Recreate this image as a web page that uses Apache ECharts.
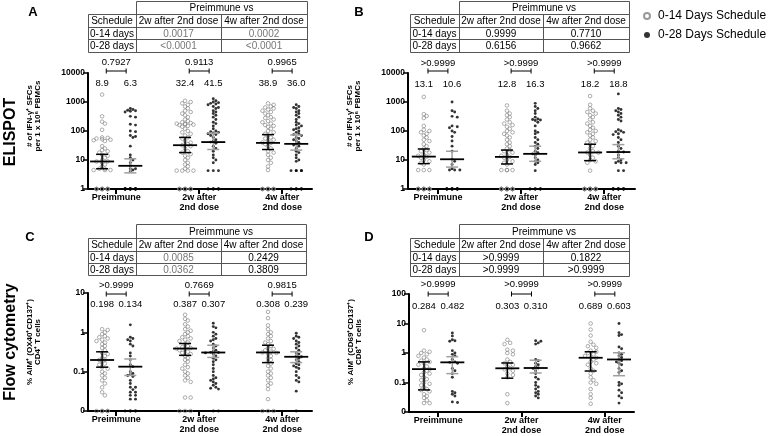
<!DOCTYPE html>
<html><head><meta charset="utf-8">
<script src="https://cdn.jsdelivr.net/npm/echarts@6/dist/echarts.min.js"></script>
<style>html,body{margin:0;padding:0;background:#fff}#c{width:769px;height:436px}</style>
</head><body><div id="c"></div>
<script>
const FONT = '"Liberation Sans", Arial, sans-serif';
const categories = ['Preimmune', '2w after\n2nd dose', '4w after\n2nd dose'];
const seriesNames = ['0-14 Days Schedule', '0-28 Days Schedule'];
const tableHeader = ['Schedule', '2w after 2nd dose', '4w after 2nd dose'];
const tableGroupTitle = 'Preimmune vs';
const tableRows = ['0-14 days', '0-28 days'];

// p-value tables (rows: 0-14 days, 0-28 days; cols: 2w, 4w vs preimmune)
const tableA = [['0.0017', '0.0002'], ['<0.0001', '<0.0001']];
const tableB = [['0.9999', '0.7710'], ['0.6156', '0.9662']];
const tableC = [['0.0085', '0.2429'], ['0.0362', '0.3809']];
const tableD = [['>0.9999', '0.1822'], ['>0.9999', '>0.9999']];

// schedule comparison p-values per time point
const pA = ['0.7927', '0.9113', '0.9965'];
const pB = ['>0.9999', '>0.9999', '>0.9999'];
const pC = ['>0.9999', '0.7669', '0.9815'];
const pD = ['>0.9999', '>0.9999', '>0.9999'];

// medians
const medA_014 = [8.9, 32.4, 38.9], medA_028 = [6.3, 41.5, 36.0];
const medB_014 = [13.1, 12.8, 18.2], medB_028 = [10.6, 16.3, 18.8];
const medC_014 = [0.198, 0.387, 0.308], medC_028 = [0.134, 0.307, 0.239];
const medD_014 = [0.284, 0.303, 0.689], medD_028 = [0.482, 0.310, 0.603];

// confidence intervals [low, high]
const ciA_014 = [[5, 15.7], [18, 60], [23, 75]], ciA_028 = [[3.6, 11], [23, 85], [22, 73]];
const ciB_014 = [[7.5, 24], [7.3, 22], [9.5, 35]], ciB_028 = [[5.7, 20], [9, 30], [11, 34]];
const ciC_014 = [[0.13, 0.32], [0.26, 0.52], [0.17, 0.47]], ciC_028 = [[0.08, 0.21], [0.23, 0.47], [0.17, 0.32]];
const ciD_014 = [[0.056, 0.5], [0.14, 0.46], [0.245, 1.1]], ciD_028 = [[0.2, 0.75], [0.21, 0.57], [0.17, 1.02]];

// ELISPOT A (IFN-gamma SFCs per 1e6 PBMCs); 0 = none detected
const A_pre_014 = [1800,320,210,180,110,60,58,55,52,50,48,45,30,25,22,20,18,15,14,12,10,9,8.9,8,7,6,5,5,4.5,4.5,4.5,0,0,0,0,0,0,0,0,0,0,0,0,0,0];
const A_pre_028 = [600,550,520,500,480,450,320,300,170,160,100,95,70,65,60,30,15,12,10,8,6.3,5,5,4.5,4,0,0,0,0,0,0,0,0,0,0,0,0,0,0,0,0,0,0];
const A_2w_014 = [1100,1000,900,800,700,600,500,450,400,350,300,250,220,200,190,180,175,170,165,160,150,140,120,100,90,80,70,60,55,45,40,35,32.4,30,25,20,18,16,14,12,10,8,7,6,5,4.3,4.3,4.3,4.3,0,0,0,0,0,0,0,0,0,0];
const A_2w_028 = [1300,1100,1000,950,900,850,800,700,650,600,500,450,400,350,300,250,200,180,150,120,100,95,90,85,80,75,70,60,50,45,41.5,38,30,25,20,15,12,10,8,4.3,4.3,4.3,0,0,0,0,0,0,0,0];
const A_4w_014 = [900,800,700,650,600,550,500,450,400,350,300,280,250,220,200,180,160,150,140,120,100,90,80,70,60,55,50,45,40,38.9,35,30,25,20,18,15,12,10,8,6,4.5,0,0,0,0,0,0,0,0,0,0];
const A_4w_028 = [800,700,650,600,500,450,400,350,300,250,200,180,160,150,130,120,110,100,90,80,75,70,60,55,50,45,40,36,33,30,25,20,18,15,12,10,9,4.3,4.3,4.3,4.3,4.3,0,0,0,0,0,0,0,0];

// ELISPOT B
const B_pre_014 = [1500,380,330,280,150,110,100,90,80,70,60,50,45,35,30,25,22,20,18,15,14,13.1,12,10,9,8,7,4.5,4.5,4.5,0,0,0,0,0,0,0,0,0,0,0,0,0,0];
const B_pre_028 = [1000,500,450,320,300,150,140,130,100,90,65,45,30,20,10.6,9,7,5,4.5,4.5,4.5,0,0,0,0,0,0,0,0,0,0,0,0,0,0];
const B_2w_014 = [760,500,400,350,300,250,200,180,160,140,120,100,90,80,70,60,50,40,35,30,25,22,20,18,15,14,12.8,12,10,9,8,7,4.5,4.5,4.5,4.5,0,0,0,0,0,0,0,0,0,0,0,0,0,0,0,0];
const B_2w_028 = [900,700,600,500,400,300,260,250,240,230,200,150,100,90,80,60,50,40,35,30,25,20,18,16.3,15,12,10,9,8,7,4.3,0,0,0,0,0,0,0,0];
const B_4w_014 = [1600,800,600,500,450,400,350,300,250,200,180,150,130,110,100,90,80,70,60,50,45,40,35,30,25,20,18.2,18,15,12,10,9,8,4.3,0,0,0,0,0,0,0,0,0,0,0,0,0,0,0,0];
const B_4w_028 = [1900,600,550,500,450,400,350,300,250,220,110,100,95,90,80,75,60,50,40,30,25,20,18.8,15,12,10,9,8,8,8,4.3,4.3,0,0,0,0,0,0,0,0,0,0,0,0];

// Flow cytometry C (% AIM+ CD4+)
const C_pre_014 = [1.2,1.15,1.0,0.9,0.8,0.75,0.7,0.65,0.6,0.55,0.5,0.45,0.4,0.35,0.3,0.28,0.25,0.22,0.2,0.198,0.18,0.16,0.15,0.13,0.12,0.1,0.09,0.08,0.07,0.06,0.05,0.04,0.03,0.025,0,0,0,0,0];
const C_pre_028 = [1.55,0.75,0.7,0.65,0.6,0.5,0.45,0.3,0.25,0.2,0.15,0.134,0.1,0.09,0.085,0.08,0.075,0.06,0.05,0.04,0.04,0.035,0.03,0.03,0.025,0.025,0.02,0.02,0,0,0,0,0];
const C_2w_014 = [2.8,2.2,2.0,1.6,1.4,1.2,1.1,1.0,0.9,0.8,0.75,0.7,0.65,0.6,0.55,0.5,0.45,0.42,0.4,0.387,0.37,0.35,0.32,0.3,0.28,0.25,0.22,0.2,0.18,0.15,0.13,0.12,0.1,0.09,0.08,0.07,0.06,0.055,0.022,0.022,0,0,0];
const C_2w_028 = [1.7,1.4,1.3,1.0,0.9,0.8,0.7,0.65,0.6,0.5,0.45,0.4,0.35,0.33,0.31,0.307,0.3,0.28,0.25,0.22,0.2,0.18,0.15,0.12,0.1,0.08,0.07,0.065,0.06,0.055,0.05,0.045,0.04,0.038,0.036,0,0];
const C_4w_014 = [3.3,2.3,1.5,1.2,1.0,0.9,0.8,0.7,0.6,0.55,0.5,0.45,0.4,0.38,0.35,0.32,0.308,0.3,0.28,0.25,0.22,0.2,0.18,0.16,0.14,0.12,0.1,0.09,0.08,0.07,0.06,0.05,0.045,0.036,0.02,0,0,0];
const C_4w_028 = [0.95,0.8,0.75,0.7,0.6,0.55,0.5,0.45,0.4,0.35,0.3,0.28,0.25,0.239,0.22,0.2,0.18,0.16,0.15,0.14,0.13,0.12,0.1,0.08,0.07,0.06,0.055,0.032,0];

// Flow cytometry D (% AIM+ CD8+)
const D_pre_014 = [5.9,1.2,1.1,1.0,0.9,0.8,0.7,0.6,0.55,0.5,0.45,0.4,0.35,0.3,0.284,0.25,0.22,0.2,0.18,0.15,0.13,0.12,0.1,0.09,0.08,0.07,0.06,0.055,0.05,0.04,0.035,0.03,0.025,0.02,0.02];
const D_pre_028 = [4.8,3.8,2.8,2.6,2.5,1.2,1.0,0.9,0.8,0.6,0.5,0.482,0.45,0.3,0.25,0.2,0.15,0.05,0.045,0.04,0.035,0.022,0.021];
const D_2w_014 = [2.8,2.2,2.0,1.3,1.2,1.0,0.9,0.6,0.5,0.45,0.4,0.35,0.303,0.28,0.25,0.2,0.18,0.15,0.04,0.02];
const D_2w_028 = [2.6,2.5,2.2,2.0,0.6,0.55,0.45,0.4,0.35,0.31,0.3,0.25,0.2,0.15,0.13,0.1,0.08,0.07,0.06,0.05,0.045,0.04,0.035,0.03];
const D_4w_014 = [10,6.2,3.9,2.4,1.9,1.7,1.5,1.2,1.1,1.0,0.9,0.8,0.7,0.689,0.6,0.5,0.45,0.4,0.3,0.25,0.2,0.15,0.12,0.1,0.09,0.06,0.04,0.03,0.019];
const D_4w_028 = [10,4.9,4.2,3.9,1.6,1.4,1.0,0.9,0.8,0.7,0.603,0.55,0.5,0.45,0.4,0.3,0.25,0.22,0.1,0.09,0.08,0.055,0.045,0.035,0.03,0.02];

// ---------- layout ----------
const panels = [
  { id: 'A', grid: {left: 88, top: 73, width: 224, height: 116}, x: [-0.34, 2.36], y: [1, 10000],
    groups: [[A_pre_014, A_pre_028], [A_2w_014, A_2w_028], [A_4w_014, A_4w_028]],
    med: [medA_014, medA_028], ci: [ciA_014, ciA_028], p: pA, dec: 1, ann: {p: -11, b: -2, m: 10},
    table: tableA, tbl: {x: [88, 136, 221, 307], y: [1, 14, 27, 39, 52]},
    yName: '# of IFN-\u03b3\u207a SFCs\nper 1 x 10\u2076 PBMCs', yNameXY: [34, 116], letter: [33, 12] },
  { id: 'B', grid: {left: 408, top: 73, width: 227, height: 116}, x: [-0.36, 2.37], y: [1, 10000],
    groups: [[B_pre_014, B_pre_028], [B_2w_014, B_2w_028], [B_4w_014, B_4w_028]],
    med: [medB_014, medB_028], ci: [ciB_014, ciB_028], p: pB, dec: 1, ann: {p: -10, b: -2, m: 11},
    table: tableB, tbl: {x: [410, 459, 543, 629], y: [1, 14, 27, 39, 52]},
    yName: '# of IFN-\u03b3\u207a SFCs\nper 1 x 10\u2076 PBMCs', yNameXY: [354, 116], letter: [359, 12] },
  { id: 'C', grid: {left: 88, top: 293, width: 224, height: 118}, x: [-0.34, 2.36], y: [0.01, 10],
    groups: [[C_pre_014, C_pre_028], [C_2w_014, C_2w_028], [C_4w_014, C_4w_028]],
    med: [medC_014, medC_028], ci: [ciC_014, ciC_028], p: pC, dec: 3, ann: {p: -8, b: 1, m: 11},
    table: tableC, tbl: {x: [88, 136, 221, 306], y: [224, 238, 251, 263, 275]},
    yName: '% AIM\u207a (OX40\u207aCD137\u207a)\nCD4\u207a T cells', yNameXY: [34, 342], letter: [30, 237] },
  { id: 'D', grid: {left: 409, top: 294, width: 225, height: 118}, x: [-0.35, 2.35], y: [0.01, 100],
    groups: [[D_pre_014, D_pre_028], [D_2w_014, D_2w_028], [D_4w_014, D_4w_028]],
    med: [medD_014, medD_028], ci: [ciD_014, ciD_028], p: pD, dec: 3, ann: {p: -10, b: 0, m: 12},
    table: tableD, tbl: {x: [410, 459, 543, 629], y: [224, 238, 251, 263, 276]},
    yName: '% AIM\u207a (CD69\u207aCD137\u207a)\nCD8\u207a T cells', yNameXY: [355, 342], letter: [369, 237] }
];
const OFF = [-0.17, 0.17];

const chart = echarts.init(document.getElementById('c'), null, {renderer: 'canvas'});

function plotVal(v, p) { return v <= 0 ? p.y[0] : v; }

function yLabel(v) {
  if (v < 0.05) return '0';
  return String(+Number(v).toPrecision(3));
}

const grids = [], xAxes = [], yAxes = [], series = [], graphics = [];

panels.forEach((p, pi) => {
  grids.push(Object.assign({containLabel: false}, p.grid));
  xAxes.push({
    gridIndex: pi, type: 'value', min: p.x[0], max: p.x[1],
    axisLine: {show: true, onZero: false, lineStyle: {color: '#000', width: 2}},
    axisTick: {show: true, customValues: [0, 1, 2], length: 5, lineStyle: {color: '#000', width: 2}},
    axisLabel: {show: true, customValues: [0, 1, 2], formatter: v => categories[Math.round(v)],
      fontFamily: FONT, fontWeight: 'bold', fontSize: 9, lineHeight: 10, color: '#000', margin: 4},
    splitLine: {show: false}
  });
  yAxes.push({
    gridIndex: pi, type: 'log', logBase: 10, min: p.y[0], max: p.y[1],
    axisLine: {show: true, onZero: false, lineStyle: {color: '#000', width: 2}},
    axisTick: {show: true, length: 5, lineStyle: {color: '#000', width: 1.5}},
    minorTick: {show: false},
    axisLabel: {formatter: yLabel, fontFamily: FONT, fontWeight: 'bold', fontSize: 8.5, color: '#000', margin: 3},
    splitLine: {show: false}
  });
  // scatter series
  [0, 1].forEach(s => {
    const data = [];
    p.groups.forEach((g, c) => g[s].forEach(v => data.push([c + OFF[s], plotVal(v, p)])));
    series.push({
      id: p.id + '_s' + s, name: seriesNames[s], type: 'scatter', xAxisIndex: pi, yAxisIndex: pi,
      symbol: 'circle', symbolSize: s === 0 ? 3.6 : 2.9, clip: false, z: 3,
      itemStyle: s === 0 ? {color: 'rgba(255,255,255,0)', borderColor: '#808080', borderWidth: 0.8}
                         : {color: '#000', borderWidth: 0},
      data
    });
  });
  // median + CI bars
  const barData = [];
  [0, 1].forEach(s => p.med[s].forEach((m, c) => barData.push([c + OFF[s], m, p.ci[s][c][0], p.ci[s][c][1], s])));
  series.push({
    type: 'custom', xAxisIndex: pi, yAxisIndex: pi, z: 5, silent: true,
    renderItem: (params, api) => {
      const x = api.value(0), kind = api.value(4);
      const pm = api.coord([x, api.value(1)]), pl = api.coord([x, api.value(2)]), ph = api.coord([x, api.value(3)]);
      const wc = kind === 0 ? '#000' : '#a0a0a0';
      const st = {stroke: wc, lineWidth: 1.5};
      return {type: 'group', children: [
        {type: 'line', shape: {x1: pm[0], y1: ph[1], x2: pm[0], y2: pl[1]}, style: st},
        {type: 'line', shape: {x1: pm[0] - 6, y1: ph[1], x2: pm[0] + 6, y2: ph[1]}, style: st},
        {type: 'line', shape: {x1: pm[0] - 6, y1: pl[1], x2: pm[0] + 6, y2: pl[1]}, style: st},
        {type: 'line', shape: {x1: pm[0] - 12, y1: pm[1], x2: pm[0] + 12, y2: pm[1]}, style: {stroke: '#000', lineWidth: 1.8}}
      ]};
    },
    data: barData
  });
  // annotations (p-value, bracket, medians)
  const annData = [0, 1, 2].map(c => [c, p.y[1]]);
  series.push({
    type: 'custom', xAxisIndex: pi, yAxisIndex: pi, z: 6, silent: true,
    renderItem: (params, api) => {
      const c = api.value(0);
      const top = params.coordSys.y;
      const xc = api.coord([c, p.y[1]])[0];
      const xl = api.coord([c - 0.12, p.y[1]])[0], xr = api.coord([c + 0.12, p.y[1]])[0];
      const xo = api.coord([c + OFF[0], p.y[1]])[0], xf = api.coord([c + OFF[1], p.y[1]])[0];
      const by = top + p.ann.b;
      const ts = (t) => ({text: t, fontFamily: FONT, fontSize: 9.5, fill: '#000', align: 'center', verticalAlign: 'middle'});
      const ls = {stroke: '#000', lineWidth: 1};
      return {type: 'group', children: [
        {type: 'text', x: xc, y: top + p.ann.p, style: ts(p.p[c])},
        {type: 'line', shape: {x1: xl, y1: by, x2: xr, y2: by}, style: ls},
        {type: 'line', shape: {x1: xl, y1: by - 2.5, x2: xl, y2: by + 2.5}, style: ls},
        {type: 'line', shape: {x1: xr, y1: by - 2.5, x2: xr, y2: by + 2.5}, style: ls},
        {type: 'text', x: xo, y: top + p.ann.m, style: ts(p.med[0][c].toFixed(p.dec))},
        {type: 'text', x: xf, y: top + p.ann.m, style: ts(p.med[1][c].toFixed(p.dec))}
      ]};
    },
    data: annData
  });

  // table
  const [x0, x1, x2, x3] = p.tbl.x, [y0, y1, y2, y3, y4] = p.tbl.y;
  const lst = {stroke: '#555', lineWidth: 1, fill: null};
  const h = v => Math.round(v) + 0.5;
  graphics.push({type: 'rect', shape: {x: h(x1), y: h(y0), width: x3 - x1, height: y1 - y0}, style: lst});
  graphics.push({type: 'rect', shape: {x: h(x0), y: h(y1), width: x3 - x0, height: y4 - y1}, style: lst});
  [x1, x2].forEach(xx => graphics.push({type: 'line', shape: {x1: h(xx), y1: h(y1), x2: h(xx), y2: h(y4)}, style: lst}));
  [y2, y3].forEach(yy => graphics.push({type: 'line', shape: {x1: h(x0), y1: h(yy), x2: h(x3), y2: h(yy)}, style: lst}));
  const tt = (txt, x, y, fill) => ({type: 'text', x, y, style: {text: txt, fontFamily: FONT, fontSize: 10, fill: fill || '#000', align: 'center', verticalAlign: 'middle'}});
  graphics.push(tt(tableGroupTitle, (x1 + x3) / 2, (y0 + y1) / 2 + 1));
  const cx = [(x0 + x1) / 2, (x1 + x2) / 2, (x2 + x3) / 2];
  tableHeader.forEach((t, i) => graphics.push(tt(t, cx[i], (y1 + y2) / 2 + 1)));
  const ry = [(y2 + y3) / 2 + 1, (y3 + y4) / 2 + 1];
  tableRows.forEach((t, r) => {
    graphics.push(tt(t, cx[0], ry[r]));
    p.table[r].forEach((v, k) => {
      const sig = v.startsWith('<') || (!v.startsWith('>') && parseFloat(v) < 0.05);
      graphics.push(tt(v, cx[k + 1], ry[r], sig ? '#777' : '#000'));
    });
  });
  // panel letter
  graphics.push({type: 'text', x: p.letter[0], y: p.letter[1], style: {text: p.id, fontFamily: FONT, fontWeight: 'bold', fontSize: 13, fill: '#000', align: 'center', verticalAlign: 'middle'}});
  // y-axis name
  graphics.push({type: 'text', x: p.yNameXY[0], y: p.yNameXY[1], rotation: Math.PI / 2,
    style: {text: p.yName, fontFamily: FONT, fontWeight: 'bold', fontSize: 8, lineHeight: 8.5, fill: '#000', align: 'center', verticalAlign: 'middle'}});
});

// row labels
graphics.push({type: 'text', x: 11, y: 132, rotation: Math.PI / 2, style: {text: 'ELISPOT', fontFamily: FONT, fontWeight: 'bold', fontSize: 16, fill: '#000', align: 'center', verticalAlign: 'middle'}});
graphics.push({type: 'text', x: 11, y: 342, rotation: Math.PI / 2, style: {text: 'Flow cytometry', fontFamily: FONT, fontWeight: 'bold', fontSize: 16, fill: '#000', align: 'center', verticalAlign: 'middle'}});

const option = {
  animation: false,
  backgroundColor: '#fff',
  textStyle: {fontFamily: FONT},
  legend: {
    left: 638, top: 5, orient: 'vertical', itemWidth: 6, itemHeight: 6, itemGap: 7,
    textStyle: {fontFamily: FONT, fontSize: 12, color: '#000', padding: [0, 0, 0, 3]},
    data: [{name: seriesNames[0], icon: 'circle'}, {name: seriesNames[1], icon: 'circle'}],
    selectedMode: false
  },
  grid: grids, xAxis: xAxes, yAxis: yAxes, series, graphic: {elements: graphics}
};
chart.setOption(option);

// beeswarm layout in pixel space, converted back through the axis scale
function swarm(ys, diam, step, maxHalf) {
  const order = ys.map((y, i) => i).sort((a, b) => ys[a] - ys[b]);
  const cands = [0];
  for (let k = 1; k * step <= maxHalf; k++) cands.push(k * step, -k * step);
  const placed = [], off = new Array(ys.length);
  order.forEach(i => {
    let best = 0, bestC = Infinity;
    for (const c of cands) {
      let coll = 0;
      for (const q of placed) {
        const dy = ys[i] - q.y, dx = c - q.x;
        if (dx * dx + dy * dy < diam * diam * 0.85) coll++;
      }
      if (coll === 0) { best = c; bestC = 0; break; }
      if (coll < bestC) { bestC = coll; best = c; }
    }
    off[i] = best; placed.push({x: best, y: ys[i]});
  });
  return off;
}

const updates = [];
panels.forEach((p, pi) => {
  const ppu = chart.convertToPixel({gridIndex: pi}, [1, p.y[1]])[0] - chart.convertToPixel({gridIndex: pi}, [0, p.y[1]])[0];
  [0, 1].forEach(s => {
    const data = [];
    p.groups.forEach((g, c) => {
      const vals = g[s].map(v => plotVal(v, p));
      const ys = vals.map(v => chart.convertToPixel({gridIndex: pi}, [c, v])[1]);
      const off = swarm(ys, s === 0 ? 3.5 : 3.0, s === 0 ? 2.8 : 2.6, 10);
      vals.forEach((v, i) => data.push([c + OFF[s] + off[i] / ppu, v]));
    });
    updates.push({id: p.id + '_s' + s, data});
  });
});
chart.setOption({series: updates});
</script></body></html>
